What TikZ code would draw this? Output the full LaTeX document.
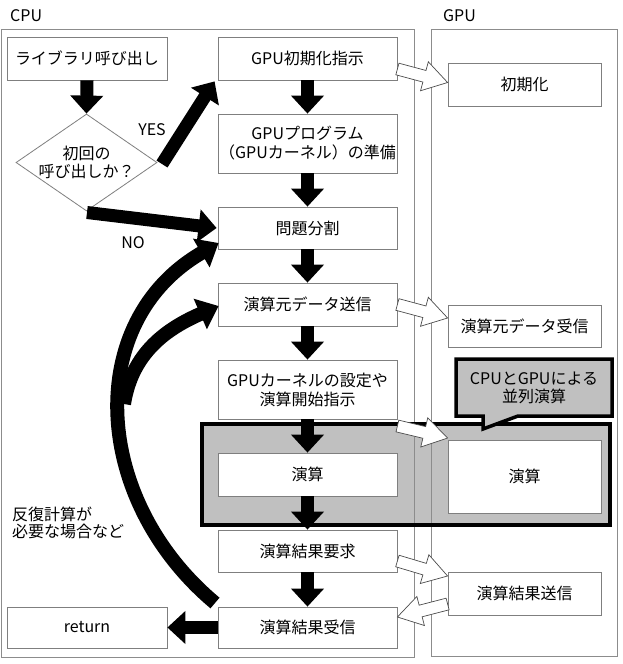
\documentclass[tikz,border=0pt]{standalone}
\usepackage{fontspec}
\setmainfont{Noto Sans CJK JP}
\usetikzlibrary{arrows.meta,calc,shapes.geometric}
\definecolor{boxgray}{HTML}{7F7F7F}
\definecolor{framegray}{HTML}{8C8C8C}
\definecolor{fillgray}{HTML}{C0C0C0}
\newcommand\myfs{\fontsize{16}{20}\selectfont}
\begin{document}
\begin{tikzpicture}[x=1pt,y=-1pt]
\tikzset{
  box/.style={draw=boxgray, line width=0.8pt, fill=white, inner sep=0pt,
    minimum width=179pt, minimum height=43pt, font=\myfs, align=center},
  lbl/.style={inner sep=0pt, font=\myfs, align=center},
  frame/.style={draw=framegray, line width=0.9pt},
  blk/.style={line width=13pt, -{Triangle[width=32pt,length=18pt]}},
  crv/.style={line width=14pt, -{Triangle[width=32pt,length=20pt]}},
  openarr/.style={draw=black!70, fill=white, line width=0.7pt, line join=miter,
    to path={
      ($(\tikztostart)!6pt!90:(\tikztotarget)$)
      -- ($(\tikztotarget)!24pt!(\tikztostart)!6pt!-90:(\tikztostart)$)
      -- ($(\tikztotarget)!24pt!(\tikztostart)!15pt!-90:(\tikztostart)$)
      -- (\tikztotarget)
      -- ($(\tikztotarget)!24pt!(\tikztostart)!15pt!90:(\tikztostart)$)
      -- ($(\tikztotarget)!24pt!(\tikztostart)!6pt!90:(\tikztostart)$)
      -- ($(\tikztostart)!6pt!-90:(\tikztotarget)$)
      -- cycle}}
}
\useasboundingbox (0,0) rectangle (622,664);
\fill[white] (0,0) rectangle (622,664);

% titles
\node[lbl, anchor=west] (tcpu) at (10,16) {CPU};
\node[lbl, anchor=west] (tgpu) at (443,16) {GPU};

% shaded parallel region (fill first)
\fill[fillgray] (202,424) rectangle (610,525);

% frames
\draw[frame] (1,29) rectangle (414,657);
\draw[frame] (431,29) rectangle (617,656);

% shaded region border
\draw[line width=4pt] (202,424) rectangle (610,525);

% callout
\draw[fill=fillgray, line width=3.5pt, line join=miter]
  (456,359) -- (612,359) -- (612,416) -- (518,416) -- (483,429) -- (483,416) -- (456,416) -- cycle;
\node[lbl] (callout) at (534,388) {CPUとGPUによる\\[-2pt]並列演算};

% CPU boxes
\node[box, minimum width=160pt] (lib) at (87,58.5) {ライブラリ呼び出し};
\node[draw=boxgray, line width=0.8pt, fill=white, diamond, inner sep=0pt,
  minimum width=141pt, minimum height=97pt, font=\myfs, align=center] (dia) at (86.5,162.5) {};
\node[lbl] (diat) at (86.5,162.5) {初回の\\[-2pt]呼び出しか？};
\node[box] (init) at (307.5,58.5) {GPU初期化指示};
\node[box, minimum height=59pt] (prog) at (307.5,143.5) {GPUプログラム\\[-1pt]（GPUカーネル）の準備};
\node[box, minimum height=42pt] (split) at (307.5,228) {問題分割};
\node[box] (send) at (307.5,304.5) {演算元データ送信};
\node[box, minimum height=59pt] (kern) at (307.5,389.5) {GPUカーネルの設定や\\[-1pt]演算開始指示};
\node[box] (calc) at (307.5,474.5) {演算};
\node[box, minimum height=42pt] (req) at (307.5,551) {演算結果要求};
\node[box, minimum height=41pt] (recv) at (307.5,627.5) {演算結果受信};
\node[box, minimum width=160pt, minimum height=41pt] (ret) at (87,627.5) {return};

% GPU boxes
\node[box, minimum width=153pt] (ginit) at (524.5,84.5) {初期化};
\node[box, minimum width=153pt, minimum height=42pt] (grecv) at (524.5,326) {演算元データ受信};
\node[box, minimum width=153pt, minimum height=73pt] (gcalc) at (524.5,476.5) {演算};
\node[box, minimum width=153pt] (gsend) at (524.5,593.5) {演算結果送信};

% labels
\node[lbl] (yes) at (152,130) {YES};
\node[lbl] (no) at (133,243) {NO};
\node[lbl, anchor=west] (iter) at (12,525) {\begin{tabular}{@{}l@{}}反復計算が\\[-3pt]必要な場合など\end{tabular}};

% black flow arrows
\draw[blk] (lib.south) -- (dia.north);
\draw[blk] (init.south) -- (prog.north);
\draw[blk] (prog.south) -- (split.north);
\draw[blk] (split.south) -- (send.north);
\draw[blk] (send.south) -- (kern.north);
\draw[blk] (kern.south) -- (calc.north);
\draw[blk] (calc.south) -- (req.north);
\draw[blk] (req.south) -- (recv.north);
\draw[blk] (recv.west) -- (ret.east);

\coordinate (yesS) at (162,164);
\coordinate (noS) at (87,212.5);
\draw[blk] (yesS) -- ($(init.south west)+(-3,1)$);
\draw[blk] (noS) -- ($(split.west)+(-1,0)$);

% loop-back curves
\coordinate (loopS) at (215,603);
\coordinate (branchS) at (124,404);
\draw[crv] (loopS) .. controls (92,500) and (82,322) .. ($(split.west)+(1,15)$);
\draw[crv] (branchS) .. controls (132,352) and (168,328) .. ($(send.west)+(1,1.5)$);

% open (white) arrows CPU <-> GPU
\coordinate (o1s) at ($(init.east)+(0,10.5)$);
\coordinate (o1e) at ($(ginit.west)+(0,-2)$);
\coordinate (o2s) at ($(send.east)+(0,0)$);
\coordinate (o2e) at ($(grecv.west)+(0,-8)$);
\coordinate (o3s) at ($(kern.east)+(0,36.5)$);
\coordinate (o3e) at ($(gcalc.west)+(0,-38.5)$);
\coordinate (o4s) at ($(req.east)+(0,10)$);
\coordinate (o4e) at ($(gsend.west)+(0,-17.5)$);
\coordinate (o5s) at ($(gsend.west)+(0,10.5)$);
\coordinate (o5e) at ($(recv.east)+(0,-10.5)$);
\path[openarr] (o1s) to (o1e);
\path[openarr] (o2s) to (o2e);
\path[openarr] (o3s) to (o3e);
\path[openarr] (o4s) to (o4e);
\path[openarr] (o5s) to (o5e);
\end{tikzpicture}
\end{document}
